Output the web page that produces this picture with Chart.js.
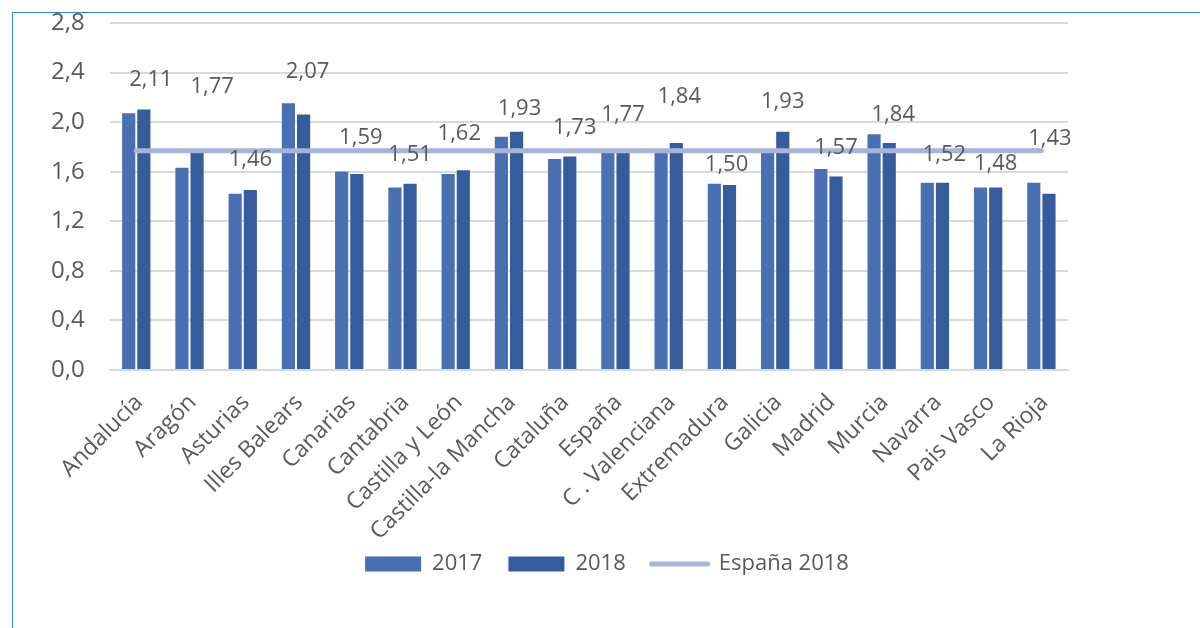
<!DOCTYPE html>
<html>
<head>
<meta charset="utf-8">
<script src="https://cdn.jsdelivr.net/npm/chart.js@4.4.1/dist/chart.umd.min.js"></script>
<style>
    html, body { margin: 0; padding: 0; background: #fff; }
    body { width: 1200px; height: 628px; position: relative; overflow: hidden; }
    .frame {
        position: absolute; left: 12px; top: 12px; width: 1200px; height: 640px;
        border-top: 1.5px solid #2E8BCB; border-left: 1.5px solid #2E8BCB;
    }
    .chart-box { position: absolute; left: 13px; top: 13px; width: 1102px; height: 590px; }
</style>
</head>
<body>
<div class="frame"></div>
<div class="chart-box"><canvas id="fertilityChart"></canvas></div>
<script>
// Regions and values per year
const regions = ["Andalucía", "Aragón", "Asturias", "Illes Balears", "Canarias", "Cantabria",
    "Castilla y León", "Castilla-la Mancha", "Cataluña", "España", "C . Valenciana", "Extremadura",
    "Galicia", "Madrid", "Murcia", "Navarra", "Pais Vasco", "La Rioja"];
const values2017 = [2.08, 1.64, 1.43, 2.16, 1.61, 1.48, 1.59, 1.89, 1.71, 1.76, 1.76, 1.51,
    1.77, 1.63, 1.91, 1.52, 1.48, 1.52];
const values2018 = [2.11, 1.77, 1.46, 2.07, 1.59, 1.51, 1.62, 1.93, 1.73, 1.77, 1.84, 1.50,
    1.93, 1.57, 1.84, 1.52, 1.48, 1.43];
const spainRef2018 = regions.map(() => 1.77);
const yTicks = [0, 0.4, 0.8, 1.2, 1.6, 2.0, 2.4, 2.8];

// how far each value label sits above its 2018 bar (px), plus a sideways nudge
const labelLift = [29, 64, 29, 42, 35, 28, 36, 22, 28, 36, 45, 19, 29, 28, 27, 27, 23, 54];
const labelNudge = [7, 15, 0, 4, 4, 0, -4, 3, 5, 0, 3, -3, 0, 0, 4, 2, 0, 1];

const TEXT = "#595959";
const FONT = "'Open Sans', sans-serif";
const fmt = v => v.toFixed(2).replace(".", ",");

// value labels over the 2018 bars
const valueLabels = {
    id: "valueLabels",
    afterDatasetsDraw(chart) {
        const meta = chart.getDatasetMeta(1);
        const ctx = chart.ctx;
        ctx.save();
        ctx.font = "22px " + FONT;
        ctx.fillStyle = TEXT;
        ctx.textAlign = "center";
        ctx.textBaseline = "middle";
        meta.data.forEach((bar, i) => {
            ctx.fillText(fmt(values2018[i]), bar.x + labelNudge[i], bar.y - labelLift[i]);
        });
        ctx.restore();
    }
};

// legend sits a bit right of the canvas centre and close under the axis labels
const legendShift = {
    id: "legendShift",
    afterLayout(chart) {
        const lg = chart.legend;
        if (!lg) return;
        lg.left += 60; lg.right += 60;
        lg.top -= 18; lg.bottom -= 18;
    }
};

const ctx = document.getElementById("fertilityChart");
new Chart(ctx, {
    data: {
        labels: regions,
        datasets: [
            {
                type: "bar",
                label: "2017",
                data: values2017,
                backgroundColor: "#4A6FB3",
                borderColor: "rgba(255,255,255,0.3)",
                borderWidth: 1,
                categoryPercentage: 0.57,
                barPercentage: 1.0,
                order: 2
            },
            {
                type: "bar",
                label: "2018",
                data: values2018,
                backgroundColor: "#375C9D",
                borderColor: "rgba(255,255,255,0.3)",
                borderWidth: 1,
                categoryPercentage: 0.57,
                barPercentage: 1.0,
                order: 2
            },
            {
                type: "line",
                label: "España 2018",
                data: spainRef2018,
                borderColor: "#A6B4D9",
                backgroundColor: "#A6B4D9",
                borderWidth: 5,
                borderCapStyle: "round",
                pointRadius: 0,
                order: 1
            }
        ]
    },
    options: {
        responsive: true,
        maintainAspectRatio: false,
        animation: false,
        layout: { padding: { left: 13, right: 47, top: 10, bottom: 0 } },
        plugins: {
            tooltip: { enabled: false },
            legend: {
                position: "bottom",
                labels: {
                    color: TEXT,
                    font: { family: FONT, size: 22 },
                    usePointStyle: true,
                    pointStyleWidth: 56,
                    boxHeight: 15,
                    padding: 26,
                    sort: (a, b) => a.datasetIndex - b.datasetIndex,
                    generateLabels(chart) {
                        const items = Chart.defaults.plugins.legend.labels.generateLabels(chart);
                        return items.map(item => {
                            if (item.datasetIndex === 2) {
                                item.pointStyle = "line";
                                item.lineWidth = 5;
                                item.lineCap = "round";
                            } else {
                                item.pointStyle = "rect";
                                item.lineWidth = 0;
                            }
                            return item;
                        });
                    }
                }
            }
        },
        scales: {
            x: {
                grid: { display: false },
                border: { color: "#D9D9D9", width: 2 },
                ticks: {
                    color: TEXT,
                    font: { family: FONT, size: 23 },
                    minRotation: 45,
                    maxRotation: 45,
                    labelOffset: 3,
                    padding: 11
                },
                afterFit(scale) {
                    scale.height = 175;
                    scale.paddingLeft = 0;
                    scale.paddingRight = 0;
                }
            },
            y: {
                min: 0,
                max: 2.8,
                afterBuildTicks(scale) { scale.ticks = yTicks.map(v => ({ value: v })); },
                grid: { color: "#D9D9D9", lineWidth: 2, drawTicks: false },
                border: { display: false },
                ticks: {
                    color: TEXT,
                    font: { family: FONT, size: 24 },
                    padding: 25,
                    callback: v => v.toFixed(1).replace(".", ",")
                },
                afterFit(scale) {
                    scale.paddingTop = 0;
                    scale.paddingBottom = 0;
                }
            }
        }
    },
    plugins: [valueLabels, legendShift]
});
</script>
</body>
</html>
